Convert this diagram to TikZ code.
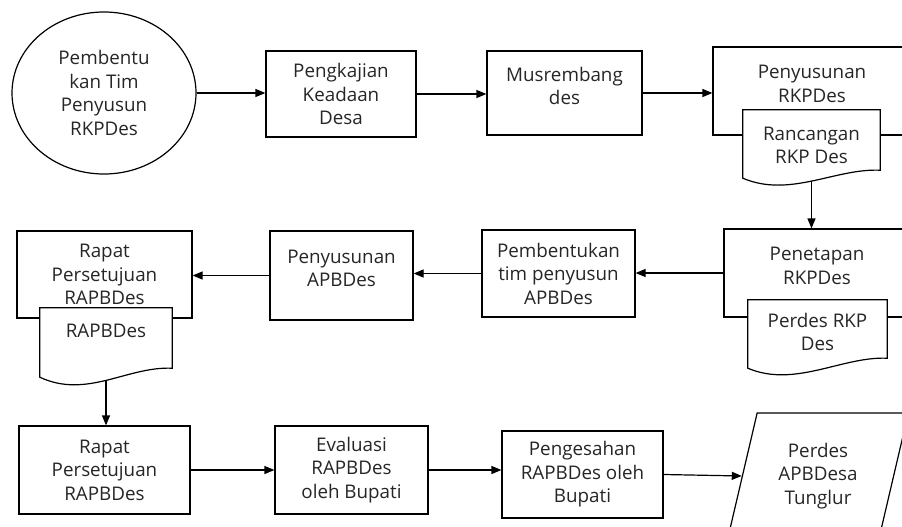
\documentclass[tikz,border=0pt]{standalone}
\usepackage{fontspec}
\setmainfont{Open Sans}
\usetikzlibrary{shapes.geometric,arrows.meta,calc}

\begin{document}
\begin{tikzpicture}[
  x=1pt, y=-1pt,
  every node/.style={font=\fontsize{18.8}{23.5}\selectfont, text=black!85},
  box/.style={rectangle, draw=black, line width=1.2pt, fill=white,
              align=center, inner sep=2pt},
  topbox/.style={box, text depth=14pt},
  doc/.style={rectangle, fill=white, align=center, inner sep=2pt},
  docline/.style={draw=black, line width=1.2pt},
  arr/.style={-{Triangle[length=10pt,width=8pt]}, line width=1.2pt}
]
\useasboundingbox (0,0) rectangle (902,527);
\clip (0,0) rectangle (902,527);

% baris atas
\node[ellipse, draw=black, line width=1.2pt, minimum width=184pt,
      minimum height=162pt, align=center] (tim) at (104,93)
  {Pembentu\\kan Tim\\Penyusun\\RKPDes};
\node[box, minimum width=150pt, minimum height=86pt] (kaji) at (341,94)
  {Pengkajian\\Keadaan\\Desa};
\node[topbox, minimum width=155pt, minimum height=84pt] (musren) at (564.5,93)
  {Musrembang\\des};
\node[topbox, minimum width=198pt, minimum height=88pt] (susun) at (812,91)
  {Penyusunan\\RKPDes};
\node[doc, minimum width=137pt, minimum height=71pt] (rancang) at (811.5,145.5)
  {Rancangan\\RKP Des};
\draw[docline] (rancang.north west) -- (rancang.north east)
  -- ($(rancang.south east)+(0,-11)$) .. controls +(-45,-2) and +(47,20) ..
  ($(rancang.south west)+(0,-3)$) -- cycle;

% baris tengah
\node[topbox, minimum width=186pt, minimum height=88pt] (tetap) at (817,273)
  {Penetapan\\RKPDes};
\node[doc, minimum width=139pt, minimum height=72pt, text depth=8pt] (perdes) at (817.5,336)
  {Perdes RKP\\Des};
\draw[docline] (perdes.north west) -- (perdes.north east)
  -- ($(perdes.south east)+(0,-14)$) .. controls +(-45,-2) and +(47,20) ..
  ($(perdes.south west)+(0,-4)$) -- cycle;
\node[box, minimum width=153pt, minimum height=87pt] (bentuk) at (558.5,273.5)
  {Pembentukan\\tim penyusun\\APBDes};
\node[topbox, minimum width=143pt, minimum height=89pt] (apbdes) at (341.5,275.5)
  {Penyusunan\\APBDes};
\node[box, minimum width=175pt, minimum height=87pt] (rapat) at (104.5,274.5)
  {Rapat\\Persetujuan\\RAPBDes};
\node[doc, minimum width=132pt, minimum height=73pt, text depth=27pt] (rapbdes) at (106,344.5)
  {RAPBDes};
\draw[docline] (rapbdes.north west) -- (rapbdes.north east)
  -- ($(rapbdes.south east)+(0,-13)$) .. controls +(-45,-2) and +(47,22) ..
  ($(rapbdes.south west)+(0,-4)$) -- cycle;

% baris bawah
\node[box, minimum width=171pt, minimum height=88pt] (rapatdua) at (104.5,470)
  {Rapat\\Persetujuan\\RAPBDes};
\node[box, minimum width=153pt, minimum height=88pt] (evaluasi) at (351.5,470)
  {Evaluasi\\RAPBDes\\oleh Bupati};
\node[box, minimum width=161pt, minimum height=87pt] (sah) at (582.5,474.5)
  {Pengesahan\\RAPBDes oleh\\Bupati};
\node[trapezium, trapezium left angle=74, trapezium right angle=106,
      trapezium stretches=true, draw=black, line width=1.2pt,
      minimum width=181pt, minimum height=126pt, align=center] (apbdesa) at (818,476)
  {Perdes\\APBDesa\\Tunglur};

\draw[arr] (tim.east) -- (tim.east -| kaji.west);
\draw[arr] (kaji.east) -- (kaji.east -| musren.west);
\draw[arr] (musren.east) -- (musren.east -| susun.west);
\draw[arr] (rancang.south) -- (rancang.south |- tetap.north);
\draw[arr] (tetap.west) -- (tetap.west -| bentuk.east);
\draw[arr] (bentuk.west) -- (bentuk.west -| apbdes.east);
\draw[arr] (apbdes.west) -- (apbdes.west -| rapat.east);
\draw[arr] (rapbdes.south) -- (rapbdes.south |- rapatdua.north);
\draw[arr] (rapatdua.east) -- (rapatdua.east -| evaluasi.west);
\draw[arr] (evaluasi.east) -- (evaluasi.east -| sah.west);
\draw[arr] (sah.east) -- (apbdesa.west);
\end{tikzpicture}
\end{document}
